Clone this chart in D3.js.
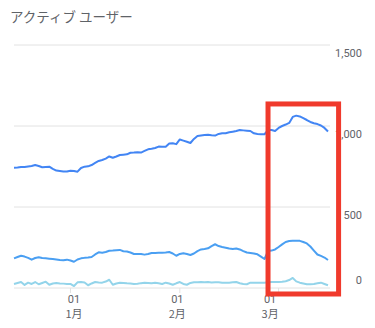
<!DOCTYPE html>
<html>
<head>
<meta charset="utf-8">
<title>アクティブ ユーザー</title>
<style>
  html, body { margin: 0; padding: 0; background: #fff; }
  svg { display: block; }
</style>
</head>
<body>
<svg id="svg" width="375" height="328"></svg>
<script src="https://d3js.org/d3.v7.min.js"></script>
<script>
// daily values, 2020-12-16 .. 2021-03-15
const startDate = new Date(2020, 11, 16)
const users1 = [743, 744, 747, 747, 750, 753, 759, 753, 745, 747, 749, 735, 725, 722, 719, 719, 724, 722, 718, 741,
  749, 751, 759, 772, 784, 790, 799, 812, 804, 812, 821, 823, 825, 835, 836, 838, 836, 846, 856, 859,
  864, 873, 872, 872, 892, 893, 888, 917, 910, 903, 895, 920, 938, 941, 944, 946, 943, 941, 951, 955,
  955, 961, 965, 969, 975, 973, 971, 969, 955, 951, 949, 949, 975, 975, 969, 988, 1000, 1009, 1019, 1056,
  1064, 1059, 1048, 1037, 1025, 1017, 1012, 1003, 988, 966]
const users7 = [183, 191, 199, 194, 186, 175, 185, 190, 185, 183, 181, 179, 176, 173, 171, 175, 170, 162, 176, 183,
  186, 188, 191, 207, 220, 218, 222, 230, 231, 233, 235, 227, 225, 219, 210, 210, 210, 206, 210, 216,
  216, 217, 218, 219, 222, 213, 199, 210, 214, 210, 204, 213, 228, 238, 241, 245, 259, 270, 259, 253,
  249, 244, 241, 244, 238, 228, 219, 216, 213, 208, 194, 179, 228, 231, 238, 253, 269, 284, 290, 292,
  292, 291, 284, 275, 256, 231, 207, 198, 188, 173]
const users28 = [25, 31, 37, 19, 33, 25, 37, 23, 31, 39, 20, 28, 31, 28, 27, 25, 25, 12, 35, 37,
  34, 17, 28, 37, 34, 33, 40, 51, 20, 28, 33, 31, 29, 28, 25, 26, 30, 33, 31, 29,
  32, 29, 25, 33, 28, 20, 29, 37, 25, 20, 31, 35, 36, 37, 35, 37, 34, 35, 36, 33,
  33, 33, 35, 37, 29, 25, 23, 33, 33, 33, 33, 33, 35, 37, 37, 37, 39, 42, 49, 62,
  41, 33, 28, 23, 23, 25, 29, 33, 25, 17]
const yTicks = [0, 500, 1000, 1500]
const monthTicks = [new Date(2021, 0, 1), new Date(2021, 1, 1), new Date(2021, 2, 1)]
const monthLabels = ['1月', '2月', '3月']
const highlight = { from: new Date(2021, 1, 26), to: new Date(2021, 2, 18), top: 1136, bottom: -37 }

const dates = users1.map((_, i) => d3.timeDay.offset(startDate, i))
const series = [
  { values: users28, color: '#93d4ea' },
  { values: users7, color: '#4a9ff2' },
  { values: users1, color: '#4285f4' }
]

const svg = d3.select('#svg')
const left = 14, right = 328, gridRight = 330
const x = d3.scaleTime().domain(d3.extent(dates)).range([left, right])
const y = d3.scaleLinear().domain([0, 1500]).range([288, 45])
const grey = '#5f6368'

svg.append('text')
  .attr('x', 10).attr('y', 22)
  .attr('font-family', 'Noto Sans CJK JP')
  .attr('font-size', 13.5)
  .attr('fill', grey)
  .text('アクティブ ユーザー')

// grid
svg.append('g').selectAll('line')
  .data(yTicks)
  .join('line')
  .attr('x1', left).attr('x2', gridRight)
  .attr('y1', d => y(d)).attr('y2', d => y(d))
  .attr('stroke', '#e2e2e2').attr('stroke-width', 1)

svg.append('g').selectAll('text')
  .data(yTicks)
  .join('text')
  .attr('x', 362)
  .attr('y', d => d === 0 ? y(d) - 4.5 : y(d) + 11.5)
  .attr('text-anchor', 'end')
  .attr('font-family', 'Roboto')
  .attr('font-size', 11)
  .attr('fill', grey)
  .text(d => d3.format(',')(d))

// x axis ticks
svg.append('g').selectAll('line')
  .data(monthTicks)
  .join('line')
  .attr('x1', d => x(d)).attr('x2', d => x(d))
  .attr('y1', y(0)).attr('y2', y(0) + 5)
  .attr('stroke', '#e2e2e2')

// two-line labels: day on top, month below
const labelShift = [3.5, -2.5, -8.5]
const lab = svg.append('g').selectAll('text')
  .data(monthTicks)
  .join('text')
  .attr('y', 302.5)
  .attr('font-family', 'Roboto, Noto Sans CJK JP')
  .attr('font-size', 11)
  .attr('fill', grey)
  .attr('text-anchor', 'middle')
lab.append('tspan')
  .attr('x', (d, i) => x(d) + labelShift[i])
  .text(d => d3.timeFormat('%d')(d))
lab.append('tspan')
  .attr('x', (d, i) => x(d) + labelShift[i])
  .attr('dy', 15.5)
  .attr('font-family', 'Noto Sans CJK JP')
  .text((d, i) => monthLabels[i])

// lines
const line = d3.line()
  .x((d, i) => x(dates[i]))
  .y(d => y(d))
svg.append('g').selectAll('path')
  .data(series)
  .join('path')
  .attr('d', d => line(d.values))
  .attr('fill', 'none')
  .attr('stroke', d => d.color)
  .attr('stroke-width', 2)
  .attr('stroke-linejoin', 'round')

// highlight box
svg.append('rect')
  .attr('x', x(highlight.from))
  .attr('y', y(highlight.top))
  .attr('width', x(highlight.to) - x(highlight.from))
  .attr('height', y(highlight.bottom) - y(highlight.top))
  .attr('fill', 'none')
  .attr('stroke', '#f03a2c')
  .attr('stroke-width', 5)
</script>
</body>
</html>
